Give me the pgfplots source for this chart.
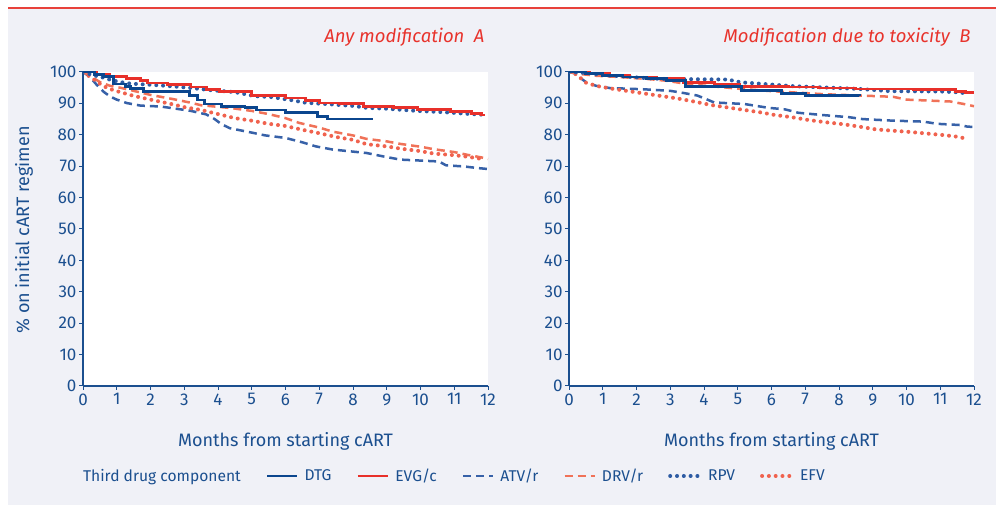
\documentclass[border=0pt]{standalone}
\usepackage{fontspec}
\setmainfont{Fira Sans}
\usepackage{pgfplots}
\pgfplotsset{compat=1.18}
\definecolor{txtblue}{HTML}{1B4F8F}
\definecolor{bggray}{HTML}{F0F1F7}
\definecolor{topred}{HTML}{E8413A}
\definecolor{titlered}{HTML}{E8332C}
\definecolor{dtgblue}{HTML}{0B468E}
\definecolor{evgred}{HTML}{E8302A}
\definecolor{atvblue}{HTML}{3761A8}
\definecolor{drvsalmon}{HTML}{F07258}
\definecolor{rpvblue}{HTML}{2D5BA3}
\definecolor{efvred}{HTML}{F0624E}
\pgfplotsset{
  kmaxis/.style={
    scale only axis, width=405bp, height=314bp,
    xmin=0, xmax=12, ymin=0, ymax=100,
    axis x line*=bottom, axis y line*=left,
    axis line style={txtblue, line width=1.2bp},
    xtick={0,1,...,12}, ytick={0,10,...,100},
    tick align=outside, major tick length=4bp,
    tick style={txtblue, line width=1bp},
    tick label style={font=\fontsize{17bp}{20bp}\selectfont, text=txtblue},
    yticklabel style={xshift=1bp},
    /pgf/number format/assume math mode=true,
    axis background/.style={fill=white},
    no markers,
    title style={anchor=east, at={(1,1.092)}, font=\fontsize{18.5bp}{21bp}\selectfont\itshape, text=titlered},
    xlabel={Months from starting cART},
    xlabel style={at={(0.5,-0.175)}, anchor=center, font=\fontsize{18bp}{21bp}\selectfont, text=txtblue},
  },
  dtg/.style={const plot, color=dtgblue, line width=2.8bp},
  evg/.style={const plot, color=evgred, line width=2.8bp},
  atv/.style={color=atvblue, line width=2.5bp, dash pattern=on 8bp off 5bp},
  drv/.style={color=drvsalmon, line width=2.5bp, dash pattern=on 8bp off 5bp},
  rpv/.style={color=rpvblue, line width=4bp, line cap=round, dash pattern=on 0bp off 6.8bp},
  efv/.style={color=efvred, line width=4bp, line cap=round, dash pattern=on 0bp off 6.8bp},
}
\begin{document}
\begin{tikzpicture}[x=1bp,y=1bp]
\useasboundingbox (0,0) rectangle (996,505);
\fill[white] (0,0) rectangle (996,505);
\fill[bggray] (8,0) rectangle (996,496);
\draw[topred, line width=1.5bp] (8,497) -- (996,497);

\begin{axis}[kmaxis, at={(83bp,119bp)}, anchor=south west,
  title={Any modification\ \ A},
  ylabel={\% on initial cART regimen},
  ylabel style={at={(-0.1457,0.497)}, anchor=center, font=\fontsize{18bp}{21bp}\selectfont, text=txtblue},
  legend columns=7,
  legend image code/.code={\draw[#1] (0bp,0bp) -- (30bp,0bp);},
  legend style={draw=none, fill=none, at={(-0.015,-0.2866)}, anchor=west,
    font=\fontsize{15.6bp}{19bp}\selectfont, text=txtblue,
    inner xsep=0pt, inner ysep=0pt,
    nodes={inner sep=0pt, text depth=0.15em},
    /tikz/every odd column/.append style={column sep=6bp},
    /tikz/every even column/.append style={column sep=25bp}},
]
\addlegendimage{empty legend}\addlegendentry{Third drug component}
\addlegendimage{dtg}\addlegendentry{DTG}
\addlegendimage{evg}\addlegendentry{EVG/c}
\addlegendimage{atv}\addlegendentry{ATV/r}
\addlegendimage{drv}\addlegendentry{DRV/r}
\addlegendimage{rpv}\addlegendentry{RPV}
\addlegendimage{efv}\addlegendentry{EFV}
% ATV/r
\addplot[atv, forget plot] coordinates {(0,100) (0.2,98.5) (0.4,96.0) (0.6,93.8) (0.8,92.2) (1.0,91.2) (1.3,90.1) (1.7,89.3) (2.3,89.0) (2.7,88.4) (3.2,87.6) (3.65,86.5) (3.9,85.0) (4.1,83.4) (4.35,82.1) (5.0,80.7) (5.4,79.8) (6.0,79.0) (6.5,77.6) (6.9,76.3) (7.4,75.3) (8.4,74.2) (8.9,73.1) (9.4,72.1) (10.55,71.5) (10.75,70.3) (11.3,69.9) (11.7,69.4) (12.0,69.1)};
% DRV/r
\addplot[drv, forget plot] coordinates {(0,100) (0.2,98.8) (0.5,96.8) (0.8,95.6) (1.1,95.0) (1.5,94.0) (2.0,92.7) (2.7,91.3) (3.2,90.2) (3.5,89.4) (4.4,88.5) (5.0,87.6) (5.5,86.6) (6.0,85.3) (6.4,83.8) (7.0,82.3) (7.4,81.0) (8.0,79.8) (8.4,78.7) (9.0,77.9) (9.4,77.1) (10.0,76.2) (10.4,75.4) (11.0,74.5) (11.4,73.6) (11.8,72.8) (12.0,72.3)};
% EFV
\addplot[efv, forget plot] coordinates {(0,100) (0.3,97.8) (0.6,95.5) (0.9,94.2) (1.1,93.6) (1.5,92.4) (2.0,91.2) (2.7,89.6) (3.0,88.8) (3.5,87.9) (4.0,86.6) (4.5,85.3) (5.0,84.5) (5.5,83.5) (6.0,82.8) (6.5,81.6) (7.0,80.5) (7.5,79.3) (8.0,78.4) (8.4,77.0) (9.0,76.3) (9.4,75.6) (10.0,74.8) (10.4,74.0) (11.0,73.5) (11.4,73.0) (11.7,72.5) (11.9,72.2)};
% RPV
\addplot[rpv, forget plot] coordinates {(0,100) (0.3,99.0) (0.6,98.2) (0.85,97.4) (1.1,96.8) (1.4,96.3) (2.2,95.8) (2.8,95.3) (3.3,94.8) (3.8,94.2) (4.5,93.6) (5.1,92.3) (5.6,92.0) (6.2,91.0) (6.6,90.2) (7.2,89.8) (8.0,89.2) (8.4,88.6) (9.0,88.3) (9.9,87.6) (10.7,87.2) (11.5,86.6) (11.85,86.4)};
% EVG/c
\addplot[evg, forget plot] coordinates {(0,100) (0.4,99.2) (0.8,98.6) (1.3,98.0) (1.7,97.4) (1.9,96.5) (2.5,95.9) (3.2,95.2) (3.65,94.5) (4.05,93.8) (5.0,92.5) (6.0,91.7) (6.6,90.8) (7.0,90.1) (7.6,89.9) (8.3,89.0) (9.2,88.6) (9.9,88.1) (10.9,87.5) (11.5,86.8) (11.8,86.3) (11.9,86.3)};
% DTG
\addplot[dtg, forget plot] coordinates {(0,100) (0.35,99.3) (0.6,98.6) (0.9,96.2) (1.25,95.5) (1.4,94.8) (1.8,93.9) (3.15,92.6) (3.4,91.1) (3.6,89.8) (4.1,89.1) (4.8,88.7) (5.15,87.9) (6.0,87.0) (6.95,85.8) (7.25,85.0) (8.6,85.0)};
\end{axis}

\begin{axis}[kmaxis, at={(569bp,119bp)}, anchor=south west,
  title={Modification due to toxicity\ \ B}]
% ATV/r
\addplot[atv] coordinates {(0,100) (0.2,99.5) (0.35,98.0) (0.5,96.8) (0.8,95.6) (1.2,94.9) (2.2,94.5) (3.0,94.0) (3.4,93.3) (3.8,92.5) (4.1,91.2) (4.3,90.3) (5.2,89.8) (5.9,88.6) (6.4,88.1) (6.8,87.0) (7.5,86.3) (8.3,85.6) (8.7,85.0) (9.6,84.5) (10.5,84.2) (10.9,83.5) (11.6,83.1) (11.8,82.6) (12.0,82.5)};
% DRV/r
\addplot[drv] coordinates {(0,100) (0.3,99.4) (0.8,98.8) (1.5,98.4) (2.3,97.8) (2.9,97.2) (3.6,96.0) (4.3,95.4) (5.1,94.6) (6.0,93.9) (6.8,93.4) (7.6,92.9) (8.4,92.6) (9.6,92.1) (10.0,91.2) (11.3,90.6) (11.7,89.8) (12.0,89.1)};
% EFV
\addplot[efv] coordinates {(0,100) (0.2,99.3) (0.35,98.0) (0.5,96.6) (0.8,95.6) (1.2,94.8) (1.7,94.0) (2.2,93.2) (2.7,92.4) (3.2,91.6) (3.7,90.6) (4.2,89.5) (4.7,88.7) (5.2,87.9) (5.7,87.1) (6.1,86.3) (6.6,85.6) (7.1,84.7) (7.6,84.0) (8.1,83.4) (8.6,82.6) (9.1,81.7) (9.6,81.3) (10.1,80.9) (10.6,80.4) (11.1,79.9) (11.5,79.4) (11.8,78.7)};
% RPV
\addplot[rpv] coordinates {(0,100) (0.5,99.7) (1.0,99.0) (1.6,98.6) (2.2,98.1) (2.7,97.8) (4.7,97.6) (5.1,96.7) (6.0,96.0) (6.6,95.5) (7.5,95.1) (8.6,94.6) (9.5,93.9) (11.0,93.8) (11.6,93.5) (11.8,93.0)};
% EVG/c
\addplot[evg] coordinates {(0,100) (0.6,99.4) (1.2,98.9) (1.8,98.4) (2.6,97.9) (3.4,96.6) (4.3,96.1) (5.05,95.5) (6.5,95.2) (7.4,94.9) (8.5,94.6) (10.2,94.3) (11.45,93.8) (11.75,93.4) (12.0,93.4)};
% DTG
\addplot[dtg] coordinates {(0,100) (0.5,99.6) (1.0,98.9) (1.6,98.4) (2.3,97.9) (2.9,97.2) (3.45,95.5) (5.1,94.0) (6.3,93.2) (7.0,92.6) (8.6,92.3)};
\end{axis}
\end{tikzpicture}
\end{document}
